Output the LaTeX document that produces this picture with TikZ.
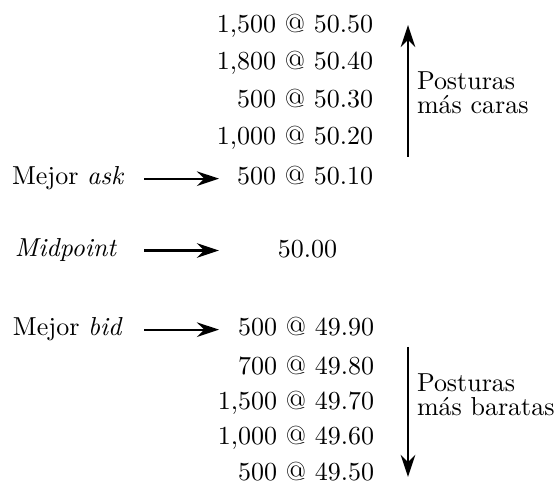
\documentclass[tikz,border=0pt]{standalone}
\usetikzlibrary{arrows.meta}
\begin{document}
\begin{tikzpicture}[x=0.3846pt, y=-0.3846pt,
  every node/.style={inner sep=0pt, outer sep=0pt},
  order/.style={anchor=base east},
  tag/.style={anchor=base west},
  note/.style={anchor=base west, align=left},
  arr/.style={line width=0.8pt, -{Stealth[length=8.5pt, width=5.6pt, inset=2.8pt]}}]
\useasboundingbox (0,0) rectangle (557,488);

% ask side of the book
\node[order] (a1) at (373,33)  {1,500 @ 50.50};
\node[order] (a2) at (373,70)  {1,800 @ 50.40};
\node[order] (a3) at (373,108) {500 @ 50.30};
\node[order] (a4) at (373,145) {1,000 @ 50.20};
\node[order] (a5) at (373,185) {500 @ 50.10};

% midpoint
\node[anchor=base] (mid) at (307.5,258) {50.00};

% bid side of the book
\node[order] (b1) at (374,336) {500 @ 49.90};
\node[order] (b2) at (374,375) {700 @ 49.80};
\node[order] (b3) at (374,410) {1,500 @ 49.70};
\node[order] (b4) at (374,445) {1,000 @ 49.60};
\node[order] (b5) at (374,480) {500 @ 49.50};

% left-hand labels
\node[tag] (askl) at (12,185) {Mejor \textit{ask}};
\node[tag] (midl) at (15,257) {\textit{Midpoint}};
\node[tag] (bidl) at (13,336) {Mejor \textit{bid}};

% common tail and tip positions of the pointers
\coordinate (tailx) at (144,0);
\coordinate (tipx) at (219,0);
\draw[arr] (askl.east -| tailx) -- (askl.east -| tipx);
\draw[arr] (midl.east -| tailx) -- (midl.east -| tipx);
\draw[arr] (bidl.east -| tailx) -- (bidl.east -| tipx);

% direction arrows with their notes (base = last line)
\coordinate (upS) at (408,157);
\coordinate (upE) at (408,25);
\draw[arr] (upS) -- (upE);
\node[note] (upn) at (417,114) {Posturas\\[-2.5pt]más caras};

\coordinate (dnS) at (408,347);
\coordinate (dnE) at (408,477);
\draw[arr] (dnS) -- (dnE);
\node[note] (dnn) at (417,416) {Posturas\\[-2.5pt]más baratas};
\end{tikzpicture}
\end{document}
